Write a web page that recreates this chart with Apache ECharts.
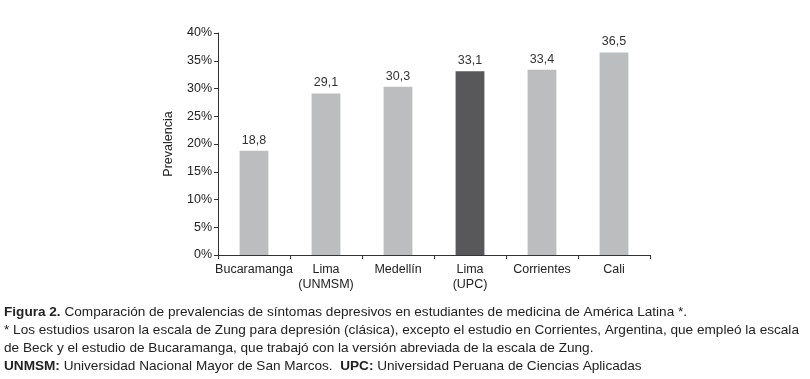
<!DOCTYPE html>
<html>
<head>
<meta charset="utf-8">
<script src="https://cdn.jsdelivr.net/npm/echarts@6/dist/echarts.min.js"></script>
<style>
  html, body { margin: 0; padding: 0; background: #fff; }
  #chart { width: 810px; height: 379px; }
</style>
</head>
<body>
<div id="chart"></div>
<script>
// datos del gráfico
const categories = ['Bucaramanga', 'Lima\n(UNMSM)', 'Medellín', 'Lima\n(UPC)', 'Corrientes', 'Cali'];
const prevalencias = [18.8, 29.1, 30.3, 33.1, 33.4, 36.5];
const destacado = 'Lima\n(UPC)';
const yTicks = [0, 5, 10, 15, 20, 25, 30, 35, 40];

const captionFont = '"Liberation Sans", Arial, sans-serif';
const captionSize = 13.6;

const chart = echarts.init(document.getElementById('chart'));

const option = {
  backgroundColor: '#fff',
  animation: false,
  textStyle: { fontFamily: 'Liberation Sans, Arial, sans-serif' },
  grid: { left: 218, right: 160, top: 33, bottom: 124 },
  xAxis: {
    type: 'category',
    data: categories,
    axisLine: { lineStyle: { color: '#333', width: 1 } },
    axisTick: { show: true, length: 4, lineStyle: { color: '#333' } },
    axisLabel: { color: '#222', fontSize: 12.5, margin: 7, lineHeight: 15, interval: 0 },
  },
  yAxis: {
    type: 'value',
    min: yTicks[0],
    max: yTicks[yTicks.length - 1],
    interval: 5,
    name: 'Prevalencia',
    nameLocation: 'middle',
    nameGap: 43,
    nameTextStyle: { color: '#222', fontSize: 12.5 },
    axisLine: { show: true, lineStyle: { color: '#333', width: 1 } },
    axisTick: { show: true, length: 4, lineStyle: { color: '#333' } },
    axisLabel: { color: '#222', fontSize: 12.5, margin: 6, formatter: '{value}%' },
    splitLine: { show: false },
  },
  series: [
    {
      type: 'bar',
      barWidth: '40%',
      data: prevalencias.map((v, i) => ({
        value: v,
        itemStyle: { color: categories[i] === destacado ? '#58585a' : '#bcbdbf' },
      })),
      label: {
        show: true,
        position: 'top',
        distance: 4,
        color: '#333',
        fontSize: 12.5,
        formatter: (p) => String(p.value).replace('.', ','),
      },
    },
  ],
  graphic: [
    {
      type: 'text',
      left: 4,
      top: 305,
      style: {
        text: '{b|Figura 2.} Comparación de prevalencias de síntomas depresivos en estudiantes de medicina de América Latina *.',
        font: captionSize + 'px ' + captionFont,
        fill: '#222',
        rich: { b: { fontWeight: 'bold', fontFamily: captionFont, fontSize: captionSize, fill: '#222' } },
      },
    },
    {
      type: 'text',
      left: 4,
      top: 323,
      style: {
        text: '* Los estudios usaron la escala de Zung para depresión (clásica), excepto el estudio en Corrientes, Argentina, que empleó la escala',
        font: captionSize + 'px ' + captionFont,
        fill: '#222',
      },
    },
    {
      type: 'text',
      left: 4,
      top: 341,
      style: {
        text: 'de Beck y el estudio de Bucaramanga, que trabajó con la versión abreviada de la escala de Zung.',
        font: captionSize + 'px ' + captionFont,
        fill: '#222',
      },
    },
    {
      type: 'text',
      left: 4,
      top: 359,
      style: {
        text: '{b|UNMSM:} Universidad Nacional Mayor de San Marcos.  {b|UPC:} Universidad Peruana de Ciencias Aplicadas',
        font: captionSize + 'px ' + captionFont,
        fill: '#222',
        rich: { b: { fontWeight: 'bold', fontFamily: captionFont, fontSize: captionSize, fill: '#222' } },
      },
    },
  ],
};

chart.setOption(option);
</script>
</body>
</html>
